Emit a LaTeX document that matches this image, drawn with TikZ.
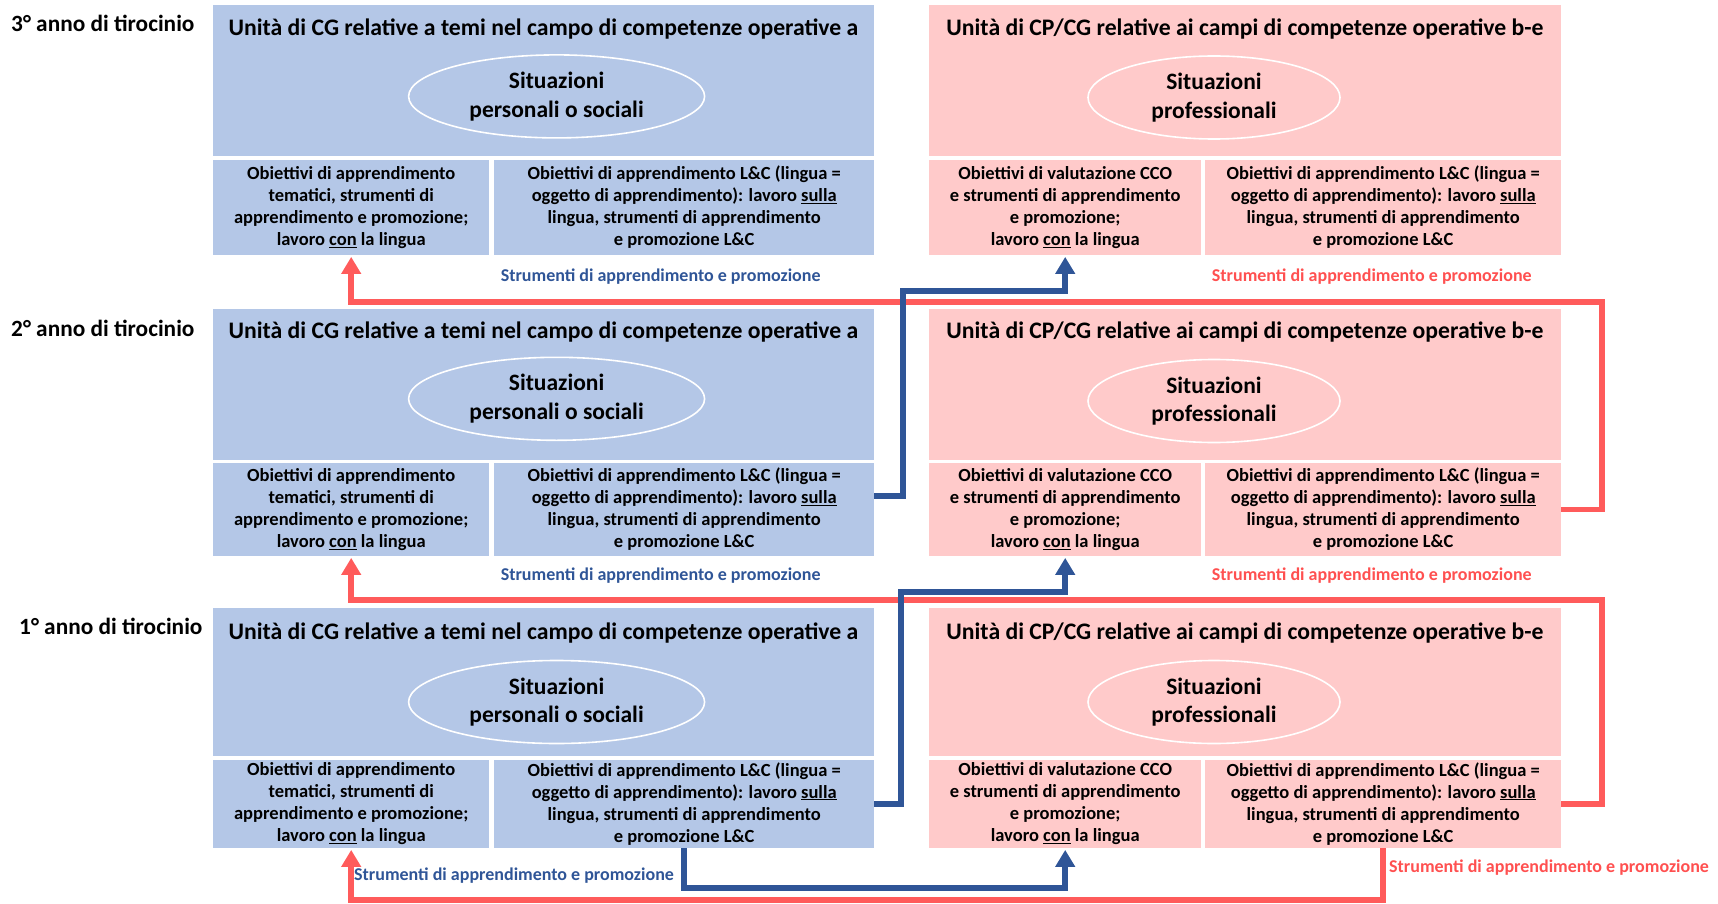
\documentclass[tikz,border=0pt]{standalone}
\usepackage{fontspec}
\setmainfont{Carlito}
\usetikzlibrary{arrows.meta,shapes.geometric}
\definecolor{bfill}{HTML}{B4C7E7}
\definecolor{pfill}{HTML}{FFCACA}
\definecolor{bline}{HTML}{2F5597}
\definecolor{rline}{HTML}{FF5B5B}
\definecolor{rtext}{HTML}{FF5050}
\tikzset{
  boxb/.style={rectangle, fill=bfill, draw=none, inner sep=0pt, anchor=north west, align=center, font=\fontsize{18.5}{22}\selectfont\bfseries},
  boxp/.style={boxb, fill=pfill},
  ttl/.style={inner sep=0pt, font=\fontsize{23.7}{28}\selectfont\bfseries},
  ell/.style={ellipse, draw=white, line width=1.6pt, inner sep=0pt, align=center, font=\fontsize{23.5}{28.5}\selectfont\bfseries},
  year/.style={inner sep=0pt, anchor=west, font=\fontsize{23.3}{27}\selectfont\bfseries},
  lblb/.style={inner sep=0pt, text=bline, font=\fontsize{18}{22}\selectfont\bfseries},
  lblr/.style={lblb, text=rtext},
  barrow/.style={draw=bline, line width=6pt, line join=miter, -{Triangle[width=19pt,length=17pt]}, shorten >=1.5pt},
  rarrow/.style={draw=rline, line width=5.5pt, line join=miter, -{Triangle[width=19pt,length=17pt]}, shorten >=1.5pt},
}
\newcommand{\txtbl}{\raisebox{-2pt}{}Obiettivi di apprendimento\\tematici, strumenti di\\apprendimento e promozione;\\lavoro \underline{con} la lingua}
\newcommand{\txtbr}{Obiettivi di apprendimento L\&C (lingua =\\oggetto di apprendimento): lavoro \underline{sulla}\\lingua, strumenti di apprendimento\\e promozione L\&C}
\newcommand{\txtpl}{Obiettivi di valutazione CCO\\e strumenti di apprendimento\\e promozione;\\lavoro \underline{con} la lingua}
\newcommand{\ttlb}{Unità di CG relative a temi nel campo di competenze operative a}
\newcommand{\ttlp}{Unità di CP/CG relative ai campi di competenze operative b-e}
\begin{document}
\begin{tikzpicture}[x=1pt,y=-1pt]
\useasboundingbox (0,0) rectangle (1718,904);
% ---------- row 3 ----------
\node[year] (y3) at (11,23) {3° anno di tirocinio};
\node[boxb, minimum width=661pt, minimum height=151pt] (r3bt) at (213,5) {};
\node[boxb, minimum width=276pt, minimum height=95pt, text depth=4pt] (r3bl) at (213,160) {\txtbl};
\node[boxb, minimum width=380pt, minimum height=95pt, text depth=4pt] (r3br) at (494,160) {\txtbr};
\node[boxp, minimum width=632pt, minimum height=151pt] (r3pt) at (929,5) {};
\node[boxp, minimum width=272pt, minimum height=95pt, text depth=4pt] (r3pl) at (929,160) {\txtpl};
\node[boxp, minimum width=356pt, minimum height=95pt, text depth=4pt] (r3pr) at (1205,160) {\txtbr};
\node[ttl] (r3bh) at (543.5,29.5) {\ttlb};
\node[ttl] (r3ph) at (1245,29.5) {\ttlp};
\node[ell, minimum width=296pt, minimum height=83pt] (r3be) at (556.6,96.4) {Situazioni\\personali o sociali};
\node[ell, minimum width=252pt, minimum height=83pt] (r3pe) at (1214,97.5) {Situazioni\\professionali};
\node[lblb] (r3lb) at (660.7,277) {Strumenti di apprendimento e promozione};
\node[lblr] (r3lr) at (1371.8,277) {Strumenti di apprendimento e promozione};
% ---------- row 2 ----------
\node[year] (y2) at (11,328) {2° anno di tirocinio};
\node[boxb, minimum width=661pt, minimum height=151pt] (r2bt) at (213,309) {};
\node[boxb, minimum width=276pt, minimum height=93pt, text depth=4pt] (r2bl) at (213,463) {\txtbl};
\node[boxb, minimum width=380pt, minimum height=93pt, text depth=4pt] (r2br) at (494,463) {\txtbr};
\node[boxp, minimum width=632pt, minimum height=151pt] (r2pt) at (929,309) {};
\node[boxp, minimum width=272pt, minimum height=93pt, text depth=4pt] (r2pl) at (929,463) {\txtpl};
\node[boxp, minimum width=356pt, minimum height=93pt, text depth=4pt] (r2pr) at (1205,463) {\txtbr};
\node[ttl] (r2bh) at (543.5,332) {\ttlb};
\node[ttl] (r2ph) at (1245,332) {\ttlp};
\node[ell, minimum width=296pt, minimum height=83pt] (r2be) at (556.6,398.8) {Situazioni\\personali o sociali};
\node[ell, minimum width=252pt, minimum height=83pt] (r2pe) at (1214,401) {Situazioni\\professionali};
\node[lblb] (r2lb) at (660.7,576) {Strumenti di apprendimento e promozione};
\node[lblr] (r2lr) at (1371.8,576) {Strumenti di apprendimento e promozione};
% ---------- row 1 ----------
\node[year] (y1) at (19,626) {1° anno di tirocinio};
\node[boxb, minimum width=661pt, minimum height=148pt] (r1bt) at (213,608) {};
\node[boxb, minimum width=276pt, minimum height=88pt, text depth=4pt] (r1bl) at (213,760) {\txtbl};
\node[boxb, minimum width=380pt, minimum height=88pt, text depth=4pt] (r1br) at (494,760) {\txtbr};
\node[boxp, minimum width=632pt, minimum height=148pt] (r1pt) at (929,608) {};
\node[boxp, minimum width=272pt, minimum height=88pt, text depth=4pt] (r1pl) at (929,760) {\txtpl};
\node[boxp, minimum width=356pt, minimum height=88pt, text depth=4pt] (r1pr) at (1205,760) {\txtbr};
\node[ttl] (r1bh) at (543.5,633) {\ttlb};
\node[ttl] (r1ph) at (1245,633) {\ttlp};
\node[ell, minimum width=296pt, minimum height=83pt] (r1be) at (556.6,702) {Situazioni\\personali o sociali};
\node[ell, minimum width=252pt, minimum height=83pt] (r1pe) at (1214,702) {Situazioni\\professionali};
\node[lblb, anchor=west] (r1lb) at (354,876) {Strumenti di apprendimento e promozione};
\node[lblr, anchor=west] (r1lr) at (1389,868) {Strumenti di apprendimento e promozione};
% ---------- connectors ----------
\coordinate (ra1) at (1602,302);
\coordinate (ra2) at (1602,600);
\coordinate (ra3) at (1000,900);
\coordinate (ba1) at (903,290.5);
\coordinate (ba2) at (901,592);
\coordinate (ba3) at (900,887.5);
\draw[rarrow] (r2pr.east) -| (ra1) -| (r3bl.south);
\draw[rarrow] (r1pr.east) -| (ra2) -| (r2bl.south);
\draw[rarrow] (r1pr.south) |- (ra3) -| (r1bl.south);
\draw[barrow] ([yshift=14pt]r2br.east) -| (ba1) -| (r3pl.south);
\draw[barrow] (r1br.east) -| (ba2) -| (r2pl.south);
\draw[barrow] (r1br.south) |- (ba3) -| (r1pl.south);
\end{tikzpicture}
\end{document}
